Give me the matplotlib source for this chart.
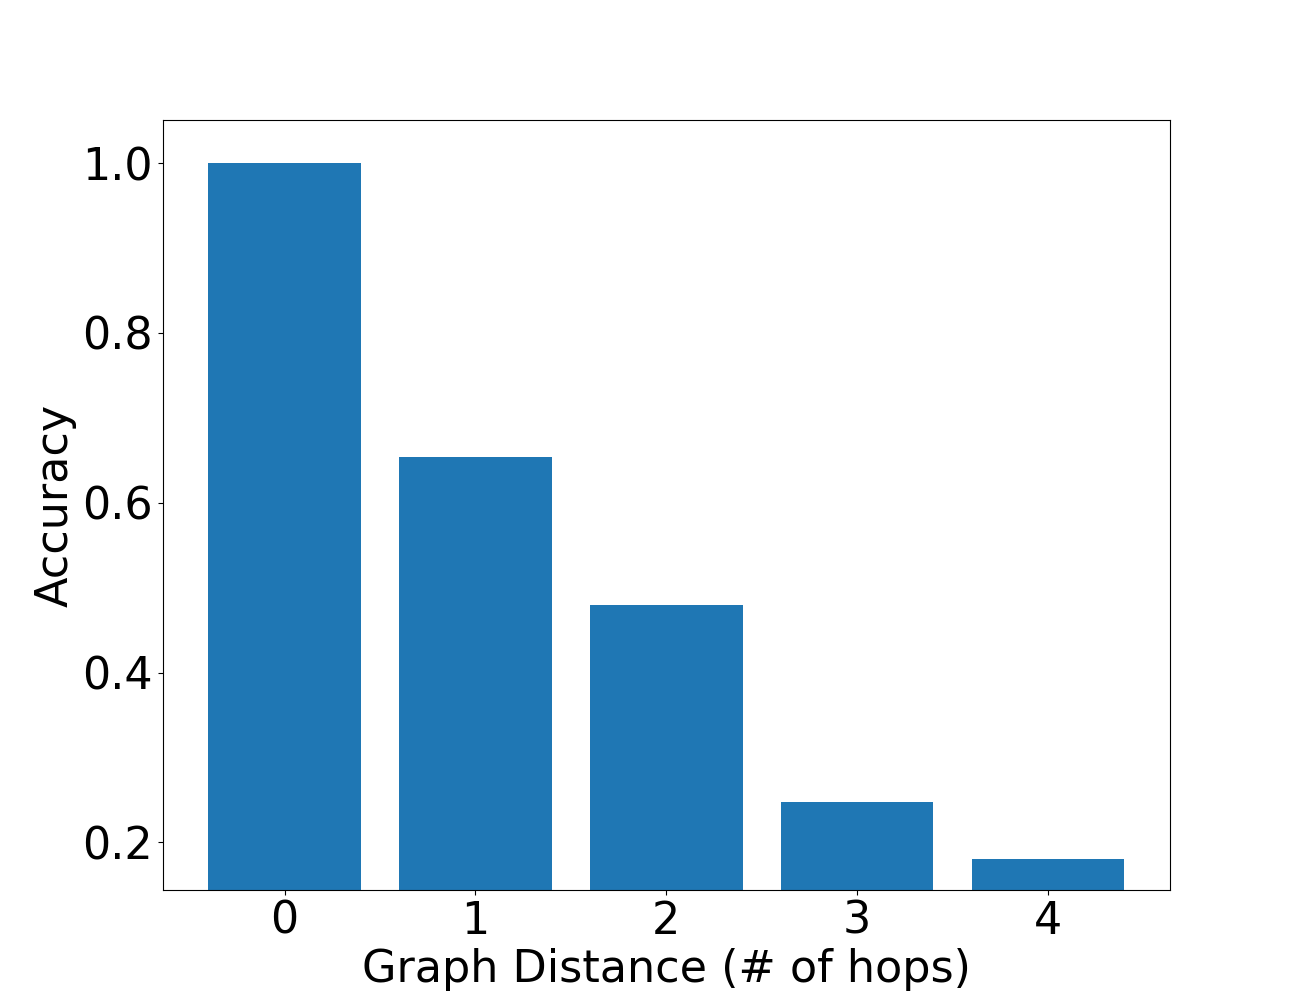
import matplotlib
matplotlib.use("Agg")
import matplotlib.pyplot as plt

hops = [0, 1, 2, 3, 4]
accuracy = [1.0, 0.654, 0.480, 0.248, 0.180]

fig, ax = plt.subplots(figsize=(13, 10), dpi=100)
ax.bar(hops, accuracy, color="#1f77b4")
ax.set_ylim(min(accuracy) * 0.8, 1.0507)
ax.set_xticks(hops)
ax.set_xlabel("Graph Distance (# of hops)", fontsize=32)
ax.set_ylabel("Accuracy", fontsize=32)
ax.tick_params(labelsize=32)
fig.savefig("out.png", dpi=100)
